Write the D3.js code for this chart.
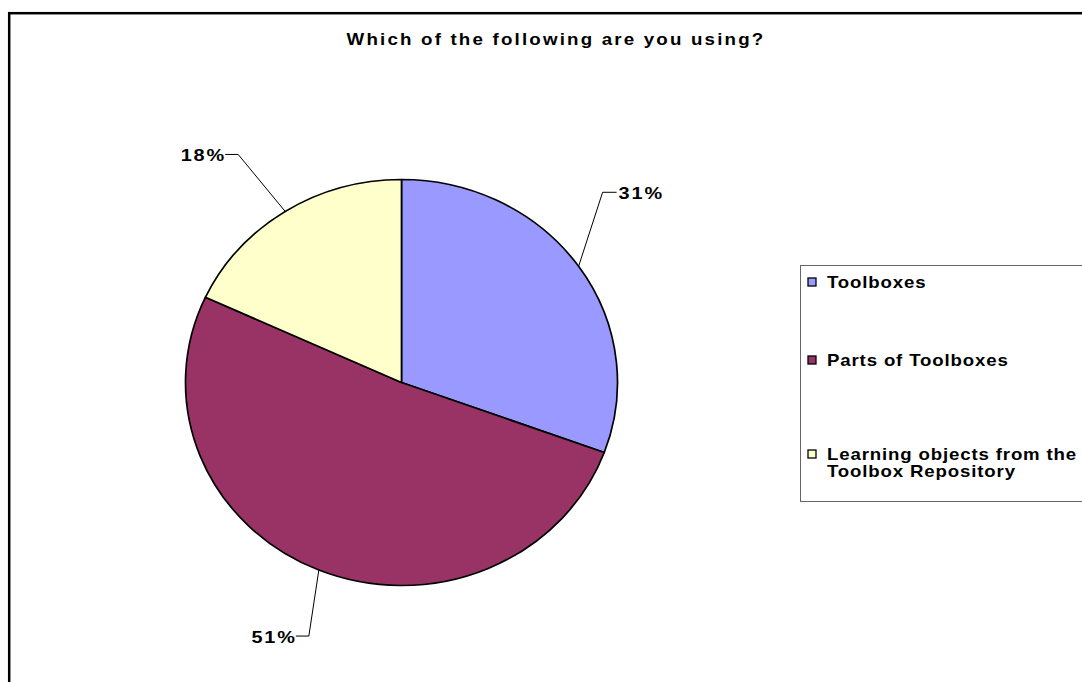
<!DOCTYPE html>
<html>
<head>
<meta charset="utf-8">
<script src="https://cdn.jsdelivr.net/npm/d3@7"></script>
<style>
  html, body { margin: 0; padding: 0; background: #fff; overflow: hidden; }
  svg { display: block; }
  text { font-family: Arial, "Liberation Sans", sans-serif; font-weight: bold; fill: #000; }
</style>
</head>
<body>
<svg id="chart" width="1082" height="682"></svg>
<script>
// ---- data ----
const title = "Which of the following are you using?";
const categories = ["Toolboxes", "Parts of Toolboxes", "Learning objects from the Toolbox Repository"];
const legendLines = [["Toolboxes"], ["Parts of Toolboxes"], ["Learning objects from the", "Toolbox Repository"]];
const values = [30.6, 51.3, 18.1];
const colors = ["#9999FF", "#993366", "#FFFFCC"];

// ---- layout ----
const W = 1082, H = 682;
const cx = 401.5, cy = 382.5, rx = 216, ry = 203;
const SX = 1.15; // horizontal text stretch of the original rendering
// label elbow offset from slice-edge point, and text side
const labelLayout = [
  { dx: 24, dy: -74, side: "right" },
  { dx: -10, dy: 66, side: "left" },
  { dx: -47, dy: -57, side: "left" }
];

const svg = d3.select("#chart");

function stretchedText(parent, x, y, size, spacing, anchor) {
  return parent.append("text")
    .attr("transform", `translate(${x},${y}) scale(${SX},1)`)
    .attr("font-size", size)
    .attr("letter-spacing", spacing)
    .attr("text-anchor", anchor);
}

// outer frame
svg.append("rect")
  .attr("x", 9.2).attr("y", 13.2)
  .attr("width", W + 20).attr("height", H + 20)
  .attr("fill", "#fff").attr("stroke", "#000").attr("stroke-width", 2.5);

// title
stretchedText(svg, 556, 45, 16.3, 1.9, "middle").text(title);

// pie
const pie = d3.pie().sort(null).value(d => d)(values);
const arc = d3.arc().innerRadius(0).outerRadius(rx);
const g = svg.append("g").attr("transform", `translate(${cx},${cy}) scale(1,${ry / rx})`);
g.selectAll("path").data(pie).join("path")
  .attr("d", arc)
  .attr("fill", (d, i) => colors[i])
  .attr("stroke", "#000")
  .attr("stroke-width", 1.7)
  .attr("stroke-linejoin", "round")
  .attr("vector-effect", "non-scaling-stroke");

// labels with leader lines
const fmt = v => Math.round(v) + "%";
const total = d3.sum(values);
pie.forEach((d, i) => {
  const a = (d.startAngle + d.endAngle) / 2;
  const ex = cx + rx * Math.sin(a), ey = cy - ry * Math.cos(a);
  const L = labelLayout[i];
  const bx = ex + L.dx, by = ey + L.dy;
  const hx = L.side === "right" ? bx + 14 : bx - 13;
  svg.append("polyline")
    .attr("points", `${ex},${ey} ${bx},${by} ${hx},${by}`)
    .attr("fill", "none").attr("stroke", "#000").attr("stroke-width", 1);
  const sp = 1.6;
  if (L.side === "right") {
    stretchedText(svg, hx + 2, by + 7, 17.3, sp, "start").text(fmt(values[i] / total * 100));
  } else {
    stretchedText(svg, hx - 1 + sp * SX, by + 7, 17.3, sp, "end").text(fmt(values[i] / total * 100));
  }
});

// legend
const lg = svg.append("g");
lg.append("rect")
  .attr("x", 800.5).attr("y", 265.5)
  .attr("width", 300).attr("height", 236)
  .attr("fill", "#fff").attr("stroke", "#666").attr("stroke-width", 1);
const rowY = [282, 360, 454];
legendLines.forEach((lines, i) => {
  lg.append("rect")
    .attr("x", 808).attr("y", rowY[i] - 4)
    .attr("width", 8).attr("height", 8)
    .attr("fill", colors[i]).attr("stroke", "#000").attr("stroke-width", 1.3);
  const t = stretchedText(lg, 827, rowY[i] + 5.5, 16.2, 0.75, "start");
  lines.forEach((ln, j) => {
    t.append("tspan").attr("x", 0).attr("dy", j === 0 ? 0 : 18).text(ln);
  });
});
</script>
</body>
</html>
